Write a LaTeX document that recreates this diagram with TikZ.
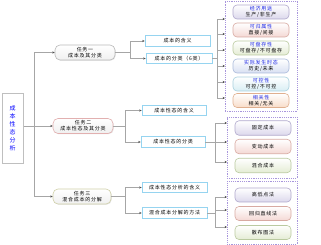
\documentclass[tikz,border=0pt]{standalone}
\usepackage{fontspec}
\setmainfont{Noto Sans CJK SC}[LetterSpace=15]
\usetikzlibrary{arrows.meta,shadows}
\definecolor{midb}{RGB}{150,212,240}
\definecolor{t2b}{RGB}{226,176,176}
\definecolor{t3b}{RGB}{208,208,168}
\definecolor{contb}{RGB}{168,150,220}
\definecolor{lavb}{RGB}{176,168,204}\definecolor{lavf}{RGB}{220,216,236}
\definecolor{pinb}{RGB}{216,170,162}\definecolor{pinf}{RGB}{244,216,212}
\definecolor{grnb}{RGB}{186,202,160}\definecolor{grnf}{RGB}{228,236,212}
\definecolor{blub}{RGB}{170,186,218}\definecolor{bluf}{RGB}{216,224,242}
\definecolor{cyab}{RGB}{168,208,222}\definecolor{cyaf}{RGB}{216,238,244}
\definecolor{orab}{RGB}{224,176,144}\definecolor{oraf}{RGB}{248,220,200}
\definecolor{hdr}{RGB}{30,40,230}
\begin{document}
\begin{tikzpicture}[x=1pt,y=-1pt,
  conn/.style={draw=gray!70, line width=0.5pt},
  arr/.style={conn, -{Stealth[length=2.4pt,width=2.2pt,color=black!70]}},
  rootbox/.style={draw=gray!50, line width=1pt, fill=white, minimum width=21pt, minimum height=70pt,
    inner sep=0pt, align=center, text=blue, font=\fontsize{6}{8}\selectfont,
    drop shadow={shadow xshift=0.8pt,shadow yshift=-0.8pt,fill=gray!45}},
  taskbox/.style={rounded corners=5pt, draw=gray!55, line width=0.6pt, top color=white, bottom color=gray!12,
    minimum width=60pt, minimum height=15pt, inner sep=0pt, align=center, font=\fontsize{5}{6}\selectfont,
    drop shadow={shadow xshift=0.7pt,shadow yshift=-0.7pt,fill=gray!45}},
  midbox/.style={draw=midb, line width=0.8pt, fill=white, minimum width=65pt, minimum height=10.5pt,
    inner sep=0pt, font=\fontsize{5}{6}\selectfont},
  cont/.style={draw=contb, line width=0.5pt, dash pattern=on 1.2pt off 1pt, inner sep=0pt},
  leaf/.style 2 args={rounded corners=4pt, draw=#1, top color=white, bottom color=#2, line width=0.6pt,
    minimum width=56pt, minimum height=14pt, inner sep=0pt, align=center, font=\fontsize{5}{6}\selectfont}
]
\useasboundingbox (0,0) rectangle (321,245);

% root and tasks
\node[rootbox] (root) at (12.5,128.5) {成\\本\\性\\态\\分\\析};
\node[taskbox] (t1) at (85,52.5) {任务一\\成本及其分类};
\node[taskbox, draw=t2b] (t2) at (83,126) {任务二\\成本性态及其分类};
\node[taskbox, draw=t3b, minimum width=58pt] (t3) at (82,196.5) {任务三\\混合成本的分解};

% middle boxes
\node[midbox] (m1) at (177.5,41) {成本的含义};
\node[midbox, minimum width=66pt] (m2) at (179,58.5) {成本的分类（6类）};
\node[midbox, minimum width=64pt] (m3) at (174,110.5) {成本性态的含义};
\node[midbox, minimum width=64pt] (m4) at (173,142) {成本性态的分类};
\node[midbox] (m5) at (174.5,187.5) {成本性态分析的含义};
\node[midbox, minimum height=11.5pt] (m6) at (174.5,213) {混合成本分解的方法};

% containers
\node[cont, minimum width=72pt, minimum height=110pt] (c1) at (261,56) {};
\node[cont, minimum width=70pt, minimum height=61pt] (c2) at (262,147.5) {};
\node[cont, minimum width=70pt, minimum height=63pt] (c3) at (262,212.5) {};

% leaves
\node[leaf={lavb}{lavf}] (l1) at (261,12) {\textcolor{hdr}{经济用途}\\生产/非生产};
\node[leaf={pinb}{pinf}] (l2) at (261,30) {\textcolor{hdr}{可归属性}\\直接/间接};
\node[leaf={grnb}{grnf}] (l3) at (261,48) {\textcolor{hdr}{可盘存性}\\可盘存/不可盘存};
\node[leaf={blub}{bluf}] (l4) at (261,66) {\textcolor{hdr}{实际发生时态}\\历史/未来};
\node[leaf={cyab}{cyaf}] (l5) at (261,84) {\textcolor{hdr}{可控性}\\可控/不可控};
\node[leaf={orab}{oraf}] (l6) at (261,100.5) {\textcolor{hdr}{相关性}\\相关/无关};

\node[leaf={lavb}{lavf}, minimum height=14.5pt] (l7) at (263,128) {固定成本};
\node[leaf={pinb}{pinf}, minimum height=14.5pt] (l8) at (263,146.5) {变动成本};
\node[leaf={grnb}{grnf}, minimum height=14.5pt] (l9) at (263,165.5) {混合成本};

\node[leaf={lavb}{lavf}] (l10) at (263,195) {高低点法};
\node[leaf={pinb}{pinf}] (l11) at (263,213.5) {回归直线法};
\node[leaf={grnb}{grnf}] (l12) at (263,232.5) {散布图法};

% trunk
\coordinate (tA) at (34,52.5);
\coordinate (tB) at (34,196.5);
\draw[conn] (tA) -- (tB);
\draw[arr] (tA) -- (t1.west);
\draw[arr] (tB) -- (t3.west);
\draw[arr] (root.east |- t2.west) -- (t2.west);

% task 1 branch
\coordinate (j1) at (130,52.5);
\draw[conn] (t1.east) -- (j1);
\draw[arr] (j1) |- (m1.west);
\draw[arr] (j1) |- (m2.west);
\coordinate (j2) at (217,58.5);
\draw[conn] (m2.east) -- (j2);
\foreach \y [count=\i] in {19,34,50,66,82,98} {
  \coordinate (e\i) at (225,\y);
  \draw[arr] (j2) |- (e\i);
}

% task 2 branch
\coordinate (j3) at (125,126);
\draw[conn] (t2.east) -- (j3);
\draw[arr] (j3) |- (m3.west);
\draw[arr] (j3) |- (m4.west);
\coordinate (j4) at (215,142);
\draw[conn] (m4.east) -- (j4);
\foreach \y [count=\i] in {123,142,162} {
  \coordinate (f\i) at (227,\y);
  \draw[arr] (j4) |- (f\i);
}

% task 3 branch
\coordinate (j5) at (125,196.5);
\draw[conn] (t3.east) -- (j5);
\draw[arr] (j5) |- (m5.west);
\draw[arr] (j5) |- (m6.west);
\coordinate (j6) at (215,213);
\draw[conn] (m6.east) -- (j6);
\foreach \y [count=\i] in {197,210,227} {
  \coordinate (g\i) at (227,\y);
  \draw[arr] (j6) |- (g\i);
}
\end{tikzpicture}
\end{document}
